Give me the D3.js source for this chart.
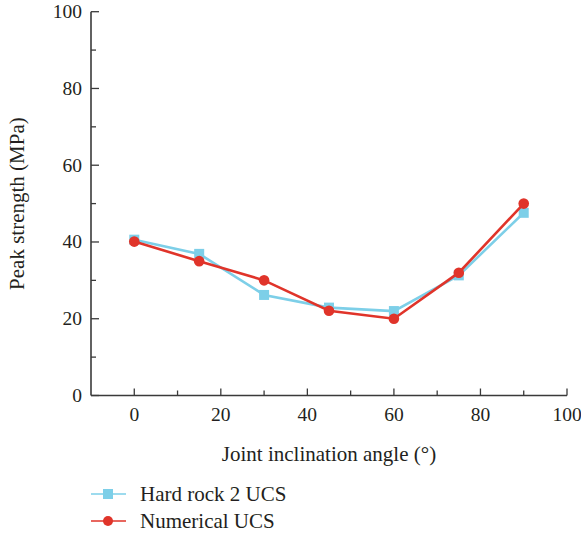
<!DOCTYPE html>
<html><head><meta charset="utf-8">
<script src="https://cdn.jsdelivr.net/npm/d3@7/dist/d3.min.js"></script>
<style>body{margin:0;background:#fff}svg text{font-family:"Liberation Serif","DejaVu Serif",serif;fill:#231f20}</style>
</head><body><svg id="c" width="581" height="536"></svg>
<script>
const angles = [0, 15, 30, 45, 60, 75, 90];
const hardRock = [40.6, 36.9, 26.2, 22.9, 22.0, 31.3, 47.6];
const numerical = [40.1, 35.0, 30.0, 22.1, 20.0, 32.0, 50.0];
const xTicks = [0, 20, 40, 60, 80, 100];
const yTicks = [0, 20, 40, 60, 80, 100];
const xMinor = [10, 30, 50, 70, 90];
const yMinor = [10, 30, 50, 70, 90];
const seriesNames = ["Hard rock 2 UCS", "Numerical UCS"];

const svg = d3.select("#c");
const x = d3.scaleLinear().domain([-10, 100]).range([91, 567]);
const y = d3.scaleLinear().domain([0, 100]).range([395.5, 11.7]);
const axisCol = "#3a3a3a";
const tickFs = 19.5, labFs = 21;

// x axis
const gx = svg.append("g").attr("transform", `translate(0,${y(0)})`);
gx.append("line").attr("x1", x(-10)).attr("x2", x(100)).attr("stroke", axisCol).attr("stroke-width", 1.6);
gx.selectAll(".mj").data(xTicks).join("line").attr("x1", d => x(d)).attr("x2", d => x(d)).attr("y1", 0).attr("y2", -7).attr("stroke", axisCol).attr("stroke-width", 1.3);
gx.selectAll(".mn").data(xMinor).join("line").attr("x1", d => x(d)).attr("x2", d => x(d)).attr("y1", 0).attr("y2", -5).attr("stroke", axisCol).attr("stroke-width", 1.3);
gx.selectAll("text").data(xTicks).join("text").attr("x", d => x(d)).attr("y", 25).attr("text-anchor", "middle").attr("font-size", tickFs).text(d => d);

// y axis
const gy = svg.append("g").attr("transform", `translate(${x(-10)},0)`);
gy.append("line").attr("y1", y(0)).attr("y2", y(100)).attr("stroke", axisCol).attr("stroke-width", 1.6);
gy.selectAll(".mj").data(yTicks).join("line").attr("y1", d => y(d)).attr("y2", d => y(d)).attr("x1", 0).attr("x2", 8).attr("stroke", axisCol).attr("stroke-width", 1.3);
gy.selectAll(".mn").data(yMinor).join("line").attr("y1", d => y(d)).attr("y2", d => y(d)).attr("x1", 0).attr("x2", 5).attr("stroke", axisCol).attr("stroke-width", 1.3);
gy.selectAll("text").data(yTicks).join("text").attr("x", -9).attr("y", d => y(d) + 6.5).attr("text-anchor", "end").attr("font-size", tickFs).text(d => d);

svg.append("text").attr("x", 329).attr("y", 461).attr("text-anchor", "middle").attr("font-size", labFs).text("Joint inclination angle (°)");
svg.append("text").attr("transform", `translate(24,${(y(0)+y(100))/2}) rotate(-90)`).attr("text-anchor", "middle").attr("font-size", labFs).text("Peak strength (MPa)");

const blue = "#7dcfe8", red = "#e0342a";
const line = d3.line().x((d, i) => x(angles[i])).y(d => y(d));

svg.append("path").datum(hardRock).attr("d", line).attr("fill", "none").attr("stroke", blue).attr("stroke-width", 2.6);
svg.selectAll(".sq").data(hardRock).join("rect").attr("x", (d, i) => x(angles[i]) - 5).attr("y", d => y(d) - 5).attr("width", 10).attr("height", 10).attr("fill", blue);
svg.append("path").datum(numerical).attr("d", line).attr("fill", "none").attr("stroke", red).attr("stroke-width", 2.6);
svg.selectAll(".ci").data(numerical).join("circle").attr("cx", (d, i) => x(angles[i])).attr("cy", d => y(d)).attr("r", 5.3).attr("fill", red);

// legend
const legY = [494, 521];
const lg = svg.append("g");
lg.append("line").attr("x1", 91).attr("x2", 126).attr("y1", legY[0]).attr("y2", legY[0]).attr("stroke", blue).attr("stroke-width", 1.5);
lg.append("rect").attr("x", 103).attr("y", legY[0] - 5).attr("width", 10).attr("height", 10).attr("fill", blue);
lg.append("line").attr("x1", 91).attr("x2", 126).attr("y1", legY[1]).attr("y2", legY[1]).attr("stroke", red).attr("stroke-width", 1.5);
lg.append("circle").attr("cx", 108).attr("cy", legY[1]).attr("r", 5).attr("fill", red);
lg.selectAll("text").data(seriesNames).join("text").attr("x", 140).attr("y", (d, i) => legY[i] + 6.5).attr("font-size", labFs).text(d => d);
</script></body></html>
